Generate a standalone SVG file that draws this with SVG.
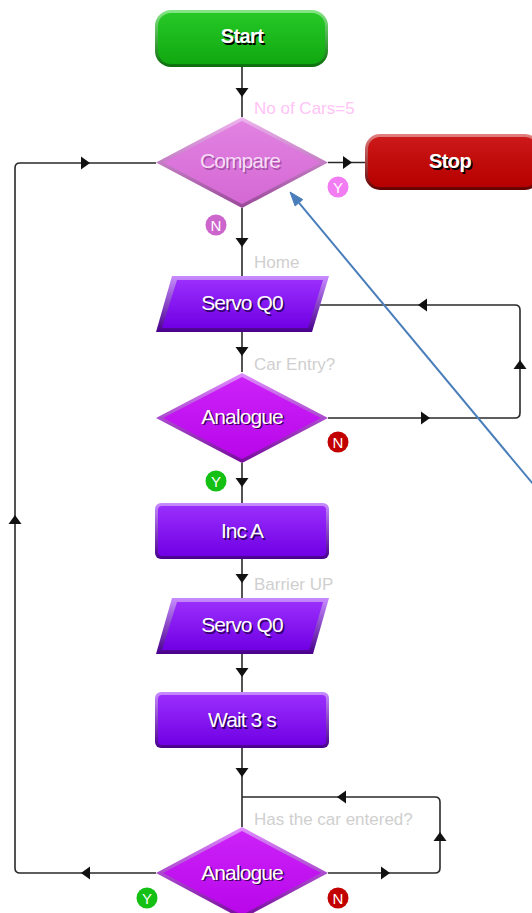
<svg xmlns="http://www.w3.org/2000/svg" xmlns:xlink="http://www.w3.org/1999/xlink" width="532" height="913" viewBox="0 0 532 913">
<defs>
<linearGradient id="gGreenB" x1="0" y1="0" x2="0" y2="1"><stop offset="0" stop-color="#86e886"/><stop offset="1" stop-color="#0a6e0a"/></linearGradient>
<linearGradient id="gGreen" x1="0" y1="0" x2="0" y2="1"><stop offset="0" stop-color="#26c826"/><stop offset="1" stop-color="#10a810"/></linearGradient>
<linearGradient id="gRedB" x1="0" y1="0" x2="0" y2="1"><stop offset="0" stop-color="#e48080"/><stop offset="1" stop-color="#640000"/></linearGradient>
<linearGradient id="gRed" x1="0" y1="0" x2="0" y2="1"><stop offset="0" stop-color="#cc1818"/><stop offset="1" stop-color="#b60000"/></linearGradient>
<linearGradient id="gPinkB" x1="0" y1="0" x2="0" y2="1"><stop offset="0" stop-color="#eeb4ee"/><stop offset="1" stop-color="#984898"/></linearGradient>
<linearGradient id="gPink" x1="0" y1="0" x2="0" y2="1"><stop offset="0" stop-color="#e282e2"/><stop offset="1" stop-color="#d468d4"/></linearGradient>
<linearGradient id="gPurpB" x1="0" y1="0" x2="0" y2="1"><stop offset="0" stop-color="#c88cff"/><stop offset="1" stop-color="#48008c"/></linearGradient>
<linearGradient id="gPurp" x1="0" y1="0" x2="0" y2="1"><stop offset="0" stop-color="#9a2efc"/><stop offset="1" stop-color="#7000e4"/></linearGradient>
<linearGradient id="gMagB" x1="0" y1="0" x2="0" y2="1"><stop offset="0" stop-color="#e08cff"/><stop offset="1" stop-color="#760a9c"/></linearGradient>
<linearGradient id="gMag" x1="0" y1="0" x2="0" y2="1"><stop offset="0" stop-color="#cc22f8"/><stop offset="1" stop-color="#b806ea"/></linearGradient>
<path id="ah" d="M0,0 L-9,-6.5 L-9,6.5 Z" fill="#111"/>
</defs>
<style>
.t{font-family:"Liberation Sans",Arial,sans-serif;font-size:21px;text-anchor:middle;letter-spacing:-0.9px}
.tw{fill:#ffffff}
.b{font-weight:bold;font-size:20px;letter-spacing:-0.6px}
.lbl{font-family:"Liberation Sans",Arial,sans-serif;font-size:17px;fill:#cfcfcf}
.ci{font-family:"Liberation Sans",Arial,sans-serif;font-size:15px;fill:#ffffff;text-anchor:middle}
.ln{fill:none;stroke:#2a2a2a;stroke-width:1.6}
</style>

<g id="connectors">
<path class="ln" d="M242,67 V117 M242,208 V276 M242,332 V372 M242,463 V503 M242,559 V598 M242,654 V692 M242,748 V827"/>
<path class="ln" d="M328,162.5 H365"/>
<path class="ln" d="M328,418 H515 Q520,418 520,413 V310 Q520,305 515,305 H320"/>
<path class="ln" d="M328,873 H435 Q440,873 440,868 V802 Q440,797 435,797 H242"/>
<path class="ln" d="M156,873 H20 Q15,873 15,868 V168 Q15,163 20,163 H156"/>
<use href="#ah" transform="translate(242,97) rotate(90)"/>
<use href="#ah" transform="translate(242,247) rotate(90)"/>
<use href="#ah" transform="translate(242,356) rotate(90)"/>
<use href="#ah" transform="translate(242,487) rotate(90)"/>
<use href="#ah" transform="translate(242,583) rotate(90)"/>
<use href="#ah" transform="translate(242,677) rotate(90)"/>
<use href="#ah" transform="translate(242,777) rotate(90)"/>
<use href="#ah" transform="translate(352,162.5)"/>
<use href="#ah" transform="translate(418,305) rotate(180)"/>
<use href="#ah" transform="translate(520,360) rotate(-90)"/>
<use href="#ah" transform="translate(430,418)"/>
<use href="#ah" transform="translate(390,873)"/>
<use href="#ah" transform="translate(440,832) rotate(-90)"/>
<use href="#ah" transform="translate(337,797) rotate(180)"/>
<use href="#ah" transform="translate(81,873) rotate(180)"/>
<use href="#ah" transform="translate(15,515) rotate(-90)"/>
<use href="#ah" transform="translate(90,163)"/>
<text class="lbl" x="254" y="114" fill="#ffc4f6" style="fill:#ffc4f6">No of Cars=5</text>
<text class="lbl" x="254" y="268">Home</text>
<text class="lbl" x="254" y="370">Car Entry?</text>
<text class="lbl" x="254" y="590">Barrier UP</text>
<text class="lbl" x="254" y="825">Has the car entered?</text>
<circle cx="338" cy="187" r="10.5" fill="#f27cf2"/><text class="ci" x="338" y="192.5">Y</text>
<circle cx="216" cy="225" r="10.5" fill="#cc66cc"/><text class="ci" x="216" y="230.5">N</text>
<circle cx="338" cy="442" r="10.5" fill="#c20000"/><text class="ci" x="338" y="447.5">N</text>
<circle cx="216" cy="481" r="10.5" fill="#14c014"/><text class="ci" x="216" y="486.5">Y</text>
<circle cx="147" cy="898" r="10.5" fill="#14c014"/><text class="ci" x="147" y="903.5">Y</text>
<circle cx="338" cy="898" r="10.5" fill="#c20000"/><text class="ci" x="338" y="903.5">N</text>
</g>

<g id="start">
<rect x="155" y="10" width="173" height="57" rx="16" fill="url(#gGreenB)"/>
<rect x="158" y="13" width="167" height="51" rx="13" fill="url(#gGreen)"/>
<text class="t b" x="243.5" y="44.5" fill="#000">Start</text>
<text class="t b tw" x="242" y="43">Start</text>
</g>

<g id="compare">
<polygon points="156,162.5 242,117 328,162.5 242,208" fill="url(#gPinkB)"/>
<polygon points="163,162.5 242,121 321,162.5 242,204" fill="url(#gPink)"/>
<text class="t" x="241.5" y="169.5" fill="#a650a6">Compare</text>
<text class="t" x="240" y="168" fill="#f6dcf6">Compare</text>
</g>

<g id="stop">
<rect x="365" y="134" width="175" height="56" rx="15" fill="url(#gRedB)"/>
<rect x="368" y="137" width="169" height="50" rx="12" fill="url(#gRed)"/>
<text class="t b" x="451.5" y="169.5" fill="#000">Stop</text>
<text class="t b tw" x="450" y="168">Stop</text>
</g>

<g id="servo1">
<polygon points="172,276 329,276 312,332 156,332" fill="url(#gPurpB)"/>
<polygon points="177,280 323,280 308,328 162,328" fill="url(#gPurp)"/>
<text class="t" x="243.5" y="311.5" fill="#2e0060">Servo Q0</text>
<text class="t tw" x="242" y="310">Servo Q0</text>
</g>

<g id="analogue1">
<polygon points="156,418 242,373 328,418 242,463" fill="url(#gMagB)"/>
<polygon points="163,418 242,377 321,418 242,459" fill="url(#gMag)"/>
<text class="t" x="243.5" y="425" fill="#3a0058">Analogue</text>
<text class="t tw" x="242" y="423.5">Analogue</text>
</g>

<g id="inca">
<rect x="155" y="503" width="174" height="56" rx="6" fill="url(#gPurpB)"/>
<rect x="158" y="506" width="168" height="50" rx="4" fill="url(#gPurp)"/>
<text class="t" x="243.5" y="539.5" fill="#2e0060">Inc A</text>
<text class="t tw" x="242" y="538">Inc A</text>
</g>

<g id="servo2">
<polygon points="172,598 329,598 313,654 156,654" fill="url(#gPurpB)"/>
<polygon points="177,602 323,602 309,650 162,650" fill="url(#gPurp)"/>
<text class="t" x="243.5" y="633.5" fill="#2e0060">Servo Q0</text>
<text class="t tw" x="242" y="632">Servo Q0</text>
</g>

<g id="wait">
<rect x="155" y="692" width="174" height="56" rx="6" fill="url(#gPurpB)"/>
<rect x="158" y="695" width="168" height="50" rx="4" fill="url(#gPurp)"/>
<text class="t" x="243.5" y="728.5" fill="#2e0060">Wait 3 s</text>
<text class="t tw" x="242" y="727">Wait 3 s</text>
</g>

<g id="analogue2">
<polygon points="156,873 242,827 328,873 242,919" fill="url(#gMagB)"/>
<polygon points="163,873 242,831 321,873 242,915" fill="url(#gMag)"/>
<text class="t" x="243.5" y="881" fill="#3a0058">Analogue</text>
<text class="t tw" x="242" y="879.5">Analogue</text>
</g>

<g id="pointer">
<line x1="533" y1="484" x2="299" y2="202.8" stroke="#4a7ebb" stroke-width="2"/>
<polygon points="290,192 302.8,199.6 295.1,206" fill="#4a7ebb" stroke="#4a7ebb" stroke-width="1"/>
</g>
</svg>
